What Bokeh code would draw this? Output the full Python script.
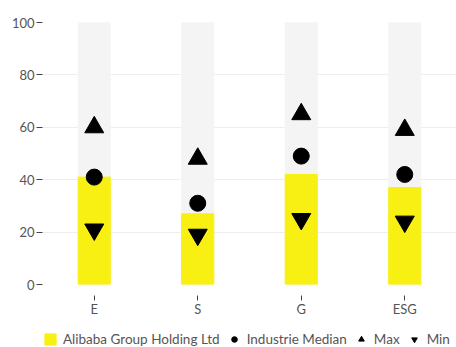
from bokeh.plotting import figure
from bokeh.layouts import column
from bokeh.models import ColumnDataSource, Legend, LegendItem, FactorRange, SingleIntervalTicker, Range1d
from bokeh.embed import file_html
from bokeh.resources import INLINE

categories = ["E", "S", "G", "ESG"]
company_scores = [41, 27, 42, 37]
industry_median = [41, 31, 49, 42]
max_values = [60, 48, 65, 59]
min_values = [21, 19, 25, 24]
full_scale = [100, 100, 100, 100]
series_names = ["Alibaba Group Holding Ltd", "Industrie Median", "Max", "Min"]

src = ColumnDataSource(dict(cat=categories, score=company_scores, med=industry_median,
                            mx=max_values, mn=min_values, full=full_scale))

FONT = "Lato"
YELLOW = "#f9f013"
p = figure(width=456, height=322, x_range=FactorRange(*categories, range_padding=0),
           y_range=(0, 100), output_backend="svg", toolbar_location=None,
           min_border_left=42, min_border_top=22, min_border_right=0, min_border_bottom=38)
p.outline_line_color = None
p.xgrid.grid_line_color = None
p.ygrid.grid_line_color = "#eeeeee"

p.vbar(x="cat", top="full", width=0.31, source=src, color="#f4f4f4")
p.vbar(x="cat", top="score", width=0.31, source=src, color=YELLOW)
p.scatter(x="cat", y="med", source=src, marker="circle", size=16, color="black")
p.scatter(x="cat", y="mx", source=src, marker="triangle", size=19, color="black")
p.scatter(x="cat", y="mn", source=src, marker="inverted_triangle", size=19, color="black")

p.yaxis.ticker = SingleIntervalTicker(interval=20)
p.yaxis.axis_line_color = None
p.yaxis.minor_tick_line_color = None
p.yaxis.major_tick_in = 0
p.yaxis.major_tick_out = 6
p.yaxis.major_tick_line_color = "#444444"
p.yaxis.major_label_standoff = 2
p.yaxis.major_label_text_font = FONT
p.yaxis.major_label_text_font_size = "13px"
p.yaxis.major_label_text_color = "#555555"

p.xaxis.axis_line_color = None
p.xaxis.major_tick_in = -11
p.xaxis.major_tick_out = 16
p.xaxis.major_tick_line_color = "#444444"
p.xaxis.major_label_standoff = 0
p.xaxis.major_label_text_font = FONT
p.xaxis.major_label_text_font_size = "13px"
p.xaxis.major_label_text_color = "#555555"

# legend strip: same series, view range kept away from the data so only the legend shows
lg = figure(width=456, height=25, x_range=FactorRange(*categories), y_range=Range1d(1000, 1001),
            output_backend="svg", toolbar_location=None, x_axis_type=None, y_axis_type=None,
            min_border_left=0, min_border_right=0, min_border_top=0, min_border_bottom=0)
lg.outline_line_color = None
lg.grid.visible = False
r_bar = lg.vbar(x="cat", top="score", width=0.31, source=src, color=YELLOW)
r_med = lg.scatter(x="cat", y="med", source=src, marker="circle", color="black")
r_max = lg.scatter(x="cat", y="mx", source=src, marker="triangle", color="black")
r_min = lg.scatter(x="cat", y="mn", source=src, marker="inverted_triangle", color="black")

# the column aligns this strip's frame with the chart frame (left edge at x=42)
legend = Legend(items=[LegendItem(label=n, renderers=[r]) for n, r in
                       zip(series_names, [r_bar, r_med, r_max, r_min])],
                orientation="horizontal", location=(1, 0))
legend.border_line_color = None
legend.background_fill_alpha = 0
legend.label_text_font = FONT
legend.label_text_font_size = "13.5px"
legend.label_text_color = "#555555"
legend.glyph_width = 14
legend.glyph_height = 14
legend.label_height = 14
legend.label_width = 10
legend.label_standoff = 6
legend.spacing = 7
legend.padding = 0
legend.margin = 0
lg.add_layout(legend, "center")

layout = column(p, lg, spacing=0)
open("out.html", "w").write(file_html(layout, INLINE))
